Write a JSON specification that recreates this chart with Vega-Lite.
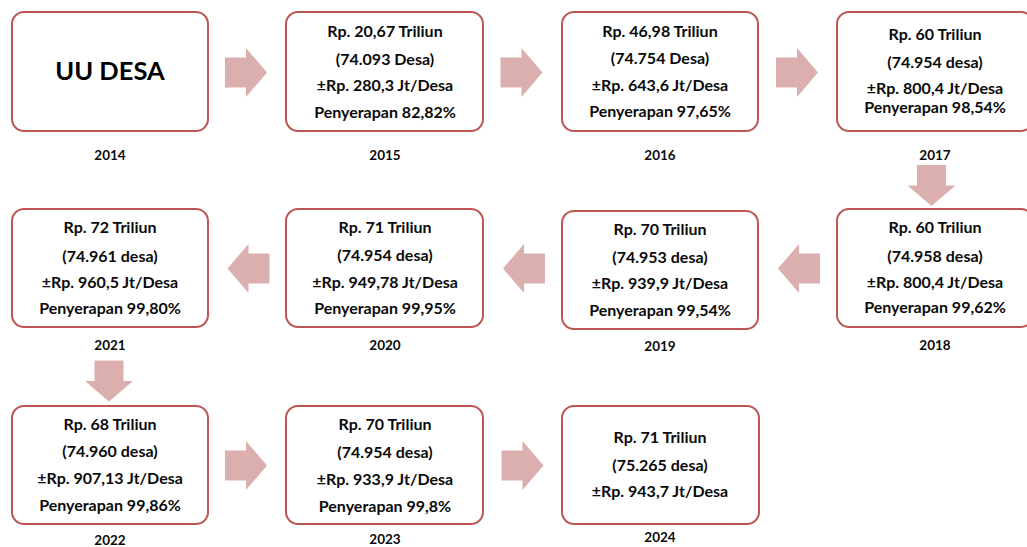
{
  "$schema": "https://vega.github.io/schema/vega-lite/v6.json",
  "width": 1027,
  "height": 547,
  "autosize": {"type": "none"},
  "padding": 0,
  "background": "white",
  "config": {"view": {"stroke": null}, "axis": {"disable": true}},
  "datasets": {
    "boxes": [
      {"year": "2014", "x1": 12, "x2": 208, "y1": 12, "y2": 131},
      {"year": "2015", "x1": 286, "x2": 483, "y1": 12, "y2": 131},
      {"year": "2016", "x1": 562, "x2": 758, "y1": 12, "y2": 131},
      {"year": "2017", "x1": 837, "x2": 1033, "y1": 12, "y2": 131},
      {"year": "2018", "x1": 837, "x2": 1033, "y1": 209, "y2": 327},
      {"year": "2019", "x1": 562, "x2": 758, "y1": 211, "y2": 329},
      {"year": "2020", "x1": 286, "x2": 483, "y1": 209, "y2": 327},
      {"year": "2021", "x1": 12, "x2": 208, "y1": 209, "y2": 327},
      {"year": "2022", "x1": 12, "x2": 208, "y1": 406, "y2": 524},
      {"year": "2023", "x1": 286, "x2": 483, "y1": 406, "y2": 524},
      {"year": "2024", "x1": 562, "x2": 759, "y1": 406, "y2": 524}
    ],
    "arrows": [
      {"dir": "right", "x": 246, "y": 72.5},
      {"dir": "right", "x": 521.5, "y": 72.5},
      {"dir": "right", "x": 797, "y": 72.5},
      {"dir": "down", "x": 931.5, "y": 185.5},
      {"dir": "left", "x": 799, "y": 268.5},
      {"dir": "left", "x": 524, "y": 268.5},
      {"dir": "left", "x": 248.5, "y": 268.5},
      {"dir": "down", "x": 109, "y": 381},
      {"dir": "right", "x": 246, "y": 465.5},
      {"dir": "right", "x": 522.5, "y": 465.5}
    ],
    "lines": [
      {"x": 385, "y": 32, "t": "Rp. 20,67 Triliun"},
      {"x": 385, "y": 60, "t": "(74.093 Desa)"},
      {"x": 385, "y": 86, "t": "±Rp. 280,3 Jt/Desa"},
      {"x": 385, "y": 113, "t": "Penyerapan 82,82%"},
      {"x": 660, "y": 32, "t": "Rp. 46,98 Triliun"},
      {"x": 660, "y": 59, "t": "(74.754 Desa)"},
      {"x": 660, "y": 86, "t": "±Rp. 643,6 Jt/Desa"},
      {"x": 660, "y": 112, "t": "Penyerapan 97,65%"},
      {"x": 935, "y": 35, "t": "Rp. 60 Triliun"},
      {"x": 935, "y": 63, "t": "(74.954 desa)"},
      {"x": 935, "y": 89, "t": "±Rp. 800,4 Jt/Desa"},
      {"x": 935, "y": 108, "t": "Penyerapan 98,54%"},
      {"x": 935, "y": 228, "t": "Rp. 60 Triliun"},
      {"x": 935, "y": 257, "t": "(74.958 desa)"},
      {"x": 935, "y": 283, "t": "±Rp. 800,4 Jt/Desa"},
      {"x": 935, "y": 308, "t": "Penyerapan 99,62%"},
      {"x": 660, "y": 230, "t": "Rp. 70 Triliun"},
      {"x": 660, "y": 258, "t": "(74.953 desa)"},
      {"x": 660, "y": 284, "t": "±Rp. 939,9 Jt/Desa"},
      {"x": 660, "y": 311, "t": "Penyerapan 99,54%"},
      {"x": 385, "y": 228, "t": "Rp. 71 Triliun"},
      {"x": 385, "y": 256, "t": "(74.954 desa)"},
      {"x": 385, "y": 283, "t": "±Rp. 949,78 Jt/Desa"},
      {"x": 385, "y": 309, "t": "Penyerapan 99,95%"},
      {"x": 110, "y": 228, "t": "Rp. 72 Triliun"},
      {"x": 110, "y": 257, "t": "(74.961 desa)"},
      {"x": 110, "y": 283, "t": "±Rp. 960,5 Jt/Desa"},
      {"x": 110, "y": 309, "t": "Penyerapan 99,80%"},
      {"x": 110, "y": 425, "t": "Rp. 68 Triliun"},
      {"x": 110, "y": 452, "t": "(74.960 desa)"},
      {"x": 110, "y": 479, "t": "±Rp. 907,13 Jt/Desa"},
      {"x": 110, "y": 506, "t": "Penyerapan 99,86%"},
      {"x": 385, "y": 425, "t": "Rp. 70 Triliun"},
      {"x": 385, "y": 453, "t": "(74.954 desa)"},
      {"x": 385, "y": 480, "t": "±Rp. 933,9 Jt/Desa"},
      {"x": 385, "y": 507, "t": "Penyerapan 99,8%"},
      {"x": 660, "y": 438, "t": "Rp. 71 Triliun"},
      {"x": 660, "y": 466, "t": "(75.265  desa)"},
      {"x": 660, "y": 492, "t": "±Rp. 943,7 Jt/Desa"}
    ],
    "years": [
      {"x": 110, "y": 156, "t": "2014"},
      {"x": 385, "y": 156, "t": "2015"},
      {"x": 660, "y": 156, "t": "2016"},
      {"x": 935, "y": 156, "t": "2017"},
      {"x": 935, "y": 346, "t": "2018"},
      {"x": 660, "y": 347, "t": "2019"},
      {"x": 385, "y": 346, "t": "2020"},
      {"x": 110, "y": 346, "t": "2021"},
      {"x": 110, "y": 541, "t": "2022"},
      {"x": 385, "y": 540, "t": "2023"},
      {"x": 660, "y": 538, "t": "2024"}
    ],
    "title": [
      {"x": 110, "y": 72, "t": "UU DESA"}
    ]
  },
  "layer": [
    {
      "data": {"name": "boxes"},
      "mark": {"type": "rect", "fill": "white", "stroke": "#bd5653", "strokeWidth": 2, "cornerRadius": 12},
      "encoding": {
        "x": {"field": "x1", "type": "quantitative", "scale": {"domain": [0, 1027], "nice": false, "zero": false}, "axis": null},
        "x2": {"field": "x2"},
        "y": {"field": "y1", "type": "quantitative", "scale": {"domain": [0, 547], "nice": false, "zero": false, "reverse": true}, "axis": null},
        "y2": {"field": "y2"}
      }
    },
    {
      "data": {"name": "arrows"},
      "mark": {"type": "point", "filled": true, "size": 2500, "color": "#dcafaf", "opacity": 1, "strokeWidth": 0},
      "encoding": {
        "x": {"field": "x", "type": "quantitative"},
        "y": {"field": "y", "type": "quantitative"},
        "shape": {
          "field": "dir", "type": "nominal", "legend": null,
          "scale": {
            "domain": ["right", "left", "down"],
            "range": [
              "M-0.84,-0.6L0,-0.6L0,-0.98L0.84,0L0,0.98L0,0.6L-0.84,0.6Z",
              "M0.84,-0.6L0,-0.6L0,-0.98L-0.84,0L0,0.98L0,0.6L0.84,0.6Z",
              "M-0.58,-0.82L0.58,-0.82L0.58,0L0.96,0L0,0.82L-0.96,0L-0.58,0Z"
            ]
          }
        }
      }
    },
    {
      "data": {"name": "lines"},
      "mark": {"type": "text", "font": "Lato", "fontWeight": "bold", "fontSize": 16, "color": "#0a0a0a", "align": "center", "baseline": "middle"},
      "encoding": {
        "x": {"field": "x", "type": "quantitative"},
        "y": {"field": "y", "type": "quantitative"},
        "text": {"field": "t"}
      }
    },
    {
      "data": {"name": "years"},
      "mark": {"type": "text", "font": "Lato", "fontWeight": "bold", "fontSize": 13.5, "color": "#0a0a0a", "align": "center", "baseline": "middle"},
      "encoding": {
        "x": {"field": "x", "type": "quantitative"},
        "y": {"field": "y", "type": "quantitative"},
        "text": {"field": "t"}
      }
    },
    {
      "data": {"name": "title"},
      "mark": {"type": "text", "font": "Lato", "fontWeight": "bold", "fontSize": 25.5, "color": "#000000", "align": "center", "baseline": "middle"},
      "encoding": {
        "x": {"field": "x", "type": "quantitative"},
        "y": {"field": "y", "type": "quantitative"},
        "text": {"field": "t"}
      }
    }
  ]
}
